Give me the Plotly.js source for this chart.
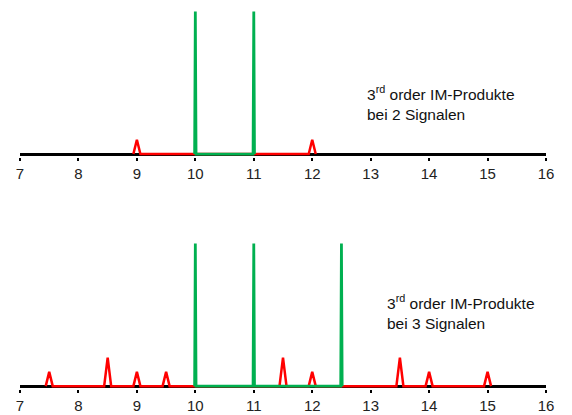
<!DOCTYPE html>
<html>
<head>
<meta charset="utf-8">
<script src="https://cdn.plot.ly/plotly-3.0.1.min.js"></script>
<style>html,body{margin:0;padding:0;background:#fff;}#chart{width:572px;height:415px;}</style>
</head>
<body>
<div id="chart"></div>
<script>
// ---- data ----
var tickValues = [7, 8, 9, 10, 11, 12, 13, 14, 15, 16];
var tickLabels = ["7", "8", "9", "10", "11", "12", "13", "14", "15", "16"];

// top chart: 2 signals
var signals2 = [10, 11];
var signals2Amp = [1, 1];
var im2 = [9, 12];
var im2Amp = [0.1, 0.1];

// bottom chart: 3 signals
var signals3 = [10, 11, 12.5];
var signals3Amp = [1, 1, 1];
var im3 = [7.5, 8.5, 9, 9.5, 11.5, 12, 13.5, 14, 15];
var im3Amp = [0.1, 0.2, 0.1, 0.1, 0.2, 0.1, 0.2, 0.1, 0.1];

// ---- build peak lines (triangle spikes on a baseline) ----
function spikes(pos, amp, hw) {
  var x = [], y = [];
  for (var i = 0; i < pos.length; i++) {
    x.push(pos[i] - hw, pos[i], pos[i] + hw);
    y.push(0, amp[i], 0);
  }
  return {x: x, y: y};
}

var RED = '#FF0000', GREEN = '#00B050';
var r2 = spikes(im2, im2Amp, 0.06);
var g2 = spikes(signals2, signals2Amp, 0.012);
var r3 = spikes(im3, im3Amp, 0.06);
var g3 = spikes(signals3, signals3Amp, 0.012);

var traces = [
  {x: r2.x, y: r2.y, xaxis: 'x', yaxis: 'y', mode: 'lines', line: {color: RED, width: 2.5}, hoverinfo: 'skip'},
  {x: g2.x, y: g2.y, xaxis: 'x', yaxis: 'y', mode: 'lines', line: {color: GREEN, width: 2.8}, hoverinfo: 'skip'},
  {x: r3.x, y: r3.y, xaxis: 'x2', yaxis: 'y2', mode: 'lines', line: {color: RED, width: 2.5}, hoverinfo: 'skip'},
  {x: g3.x, y: g3.y, xaxis: 'x2', yaxis: 'y2', mode: 'lines', line: {color: GREEN, width: 2.8}, hoverinfo: 'skip'}
];

function xax(anchor) {
  return {
    anchor: anchor, range: [7, 16], showgrid: false, zeroline: false, showline: false,
    tickmode: 'array', tickvals: tickValues, ticktext: tickLabels,
    ticks: 'outside', ticklen: 3, tickwidth: 2, tickcolor: '#000',
    tickfont: {family: 'Arial, Liberation Sans, sans-serif', size: 15, color: '#222'},
    fixedrange: true
  };
}
function yax(domain) {
  return {
    domain: domain, range: [-0.02, 1.01], showgrid: false, showticklabels: false, ticks: '',
    showline: false, zeroline: true, zerolinecolor: '#000', zerolinewidth: 3, fixedrange: true
  };
}

var annFont = {family: 'Arial, Liberation Sans, sans-serif', size: 15.5, color: '#111'};
var layout = {
  width: 572, height: 415,
  margin: {l: 20, r: 26, t: 10, b: 26},
  paper_bgcolor: '#fff', plot_bgcolor: '#fff',
  showlegend: false,
  xaxis: xax('y'),
  yaxis: yax([0.6124, 1]),
  xaxis2: xax('y2'),
  yaxis2: yax([0, 0.3879]),
  annotations: [
    {xref: 'x', yref: 'y', x: 12.91, y: 0.36, xanchor: 'left', yanchor: 'middle', align: 'left', showarrow: false,
     text: '3<sup>rd</sup> order IM-Produkte<br>bei 2 Signalen', font: annFont},
    {xref: 'x2', yref: 'y2', x: 13.25, y: 0.52, xanchor: 'left', yanchor: 'middle', align: 'left', showarrow: false,
     text: '3<sup>rd</sup> order IM-Produkte<br>bei 3 Signalen', font: annFont}
  ]
};

Plotly.newPlot('chart', traces, layout, {displayModeBar: false, staticPlot: true});
</script>
</body>
</html>
